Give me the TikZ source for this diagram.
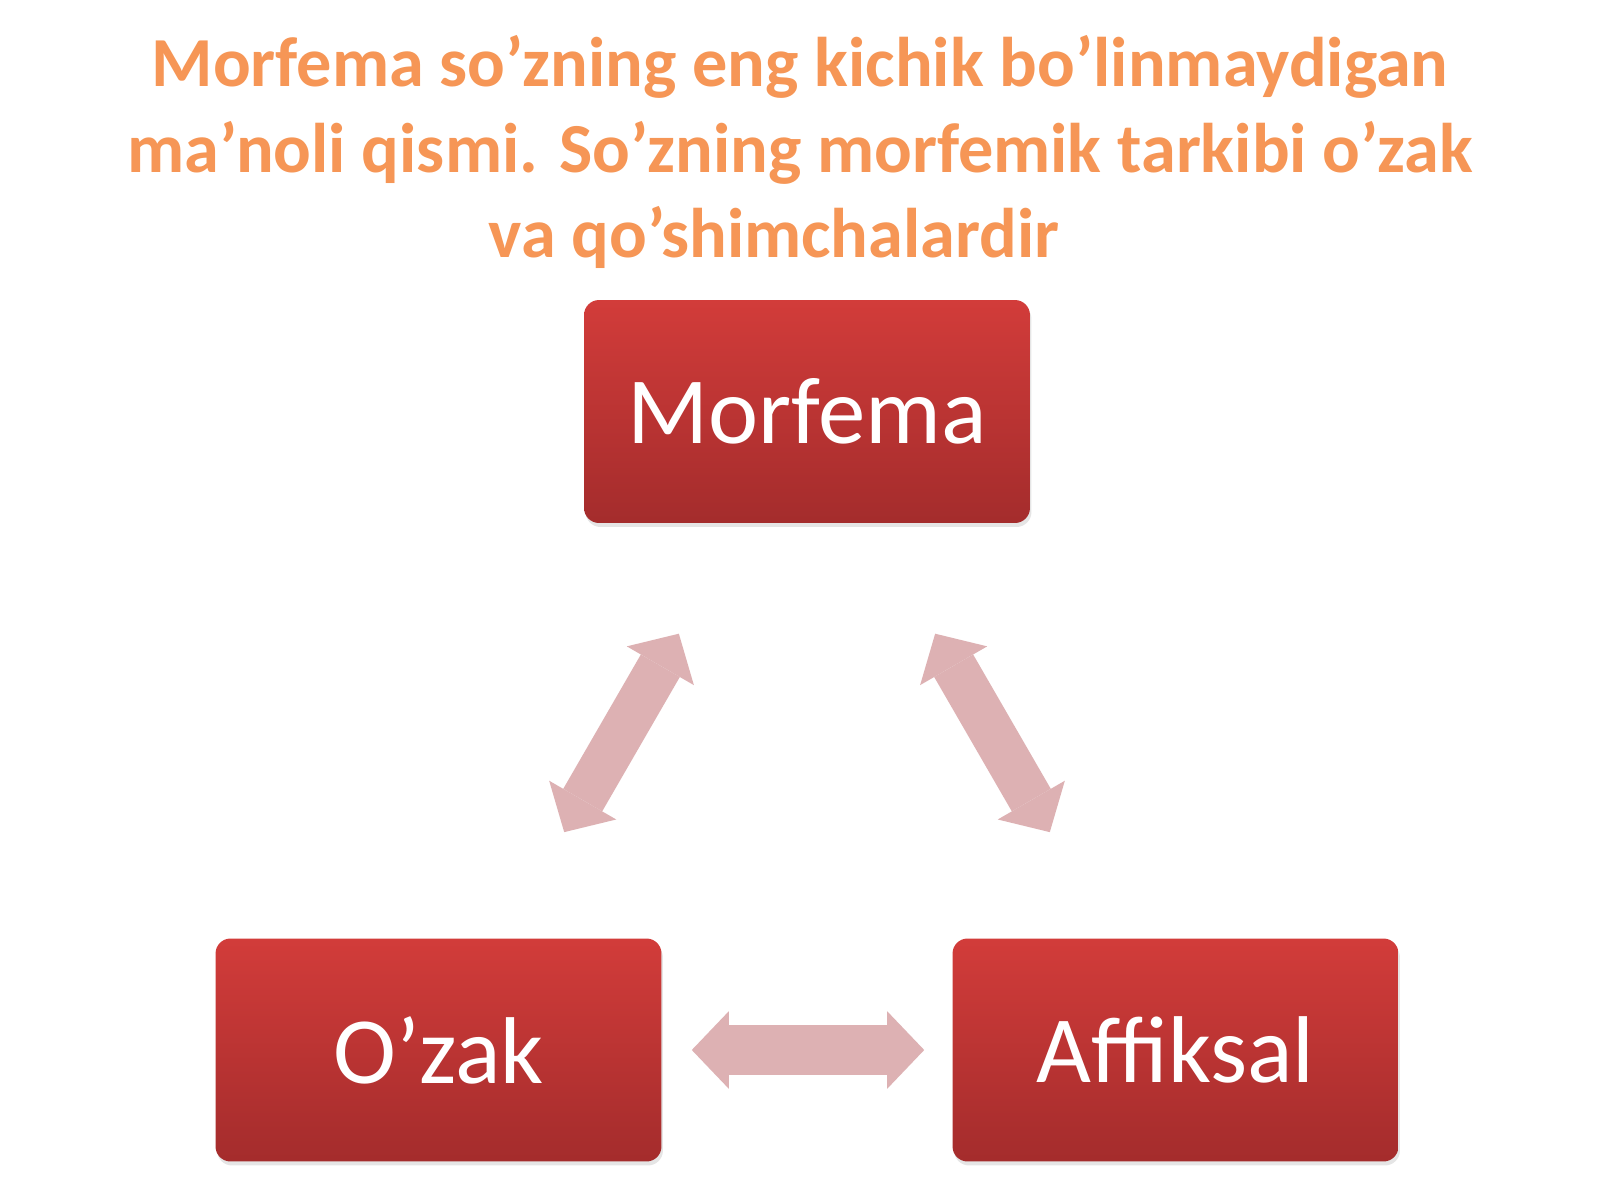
\documentclass[tikz,border=0pt]{standalone}
\usepackage{fontspec}
\setmainfont{Carlito}
\usetikzlibrary{arrows.meta,shadows}
\definecolor{titleorange}{RGB}{246,150,86}
\definecolor{boxtop}{RGB}{210,60,58}
\definecolor{boxmid}{RGB}{200,54,52}
\definecolor{boxbottom}{RGB}{164,44,44}
\definecolor{arrowpink}{RGB}{221,177,179}
\begin{document}
\begin{tikzpicture}[x=0.02cm, y=-0.02cm,
  morphbox/.style={rounded corners=0.3cm, minimum width=8.92cm, minimum height=4.46cm,
    inner sep=0pt, top color=boxtop, middle color=boxmid, bottom color=boxbottom, text=white,
    font=\fontsize{54}{60}\selectfont,
    drop shadow={opacity=0.2, shadow xshift=0.03cm, shadow yshift=-0.08cm}},
  dblarrow/.style={draw=arrowpink, line width=0.9cm, {Triangle[length=0.74cm, width=1.55cm, line width=0pt]}-{Triangle[length=0.74cm, width=1.55cm, line width=0pt]}}] % {{{
\pgfmathsetmacro{\boxrow}{1050}
\fill[white] (0,0) rectangle (1600,1200);
% Titulo {{{
\node[text=titleorange, font=\fontsize{40}{48.8}\selectfont\bfseries, align=center] (title) at (800,152)
  {Morfema so’zning eng kichik bo’linmaydigan\\ma’noli qismi. So’zning morfemik tarkibi o’zak\\va qo’shimchalardir\hspace*{1.04cm}};
% }}}
% Cajas {{{
\node[morphbox] (morfema) at (807,411.5) {Morfema};
\node[morphbox] (ozak) at (438.5,\boxrow) {O’zak};
\node[morphbox] (affiksal) at (1175.5,\boxrow) {Affiksal};
% }}}
% Flechas {{{
\draw[dblarrow, shorten <=2.55cm, shorten >=2.45cm] (morfema) -- (ozak);
\draw[dblarrow, shorten <=2.55cm, shorten >=2.45cm] (morfema) -- (affiksal);
\draw[dblarrow, line width=1cm, shorten <=0.6cm, shorten >=0.56cm] (ozak) -- (affiksal);
% }}}
\end{tikzpicture} % }}}
\end{document}
